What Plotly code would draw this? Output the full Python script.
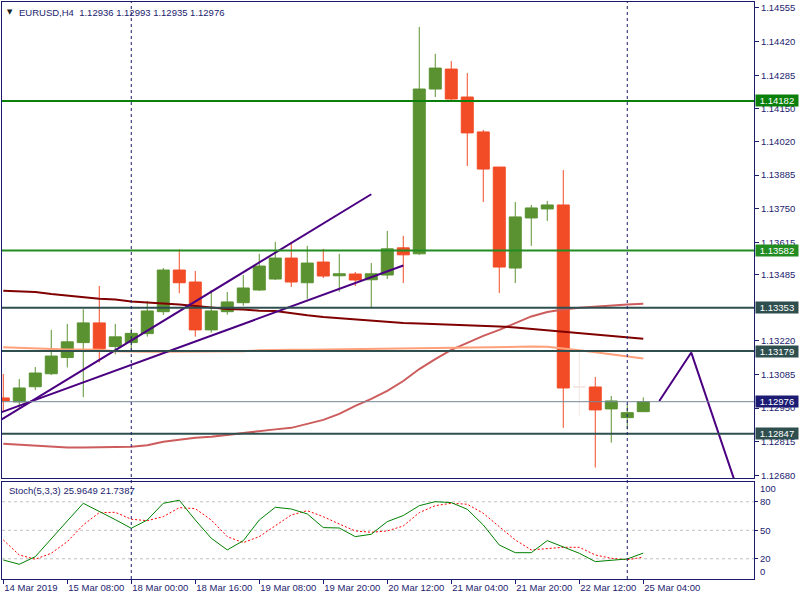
import plotly.graph_objects as go

# ---------------- data ----------------
bar_index = list(range(41))
label_bars = [0, 4, 8, 12, 16, 20, 24, 28, 32, 36, 40]
bar_labels = ["14 Mar 2019", "15 Mar 08:00", "18 Mar 00:00", "18 Mar 16:00", "19 Mar 08:00",
              "19 Mar 20:00", "20 Mar 12:00", "21 Mar 04:00", "21 Mar 20:00", "22 Mar 12:00",
              "25 Mar 04:00"]

opens = [1.12991, 1.12975, 1.13036, 1.13088, 1.13153, 1.13213, 1.13292, 1.13197, 1.13213, 1.13249,
         1.13337, 1.13504, 1.13456, 1.13264, 1.13337, 1.13373, 1.13424, 1.13468, 1.13552, 1.13453,
         1.13536, 1.13481, 1.13488, 1.13465, 1.13484, 1.13593, 1.13569, 1.14230, 1.14310, 1.14198,
         1.14058, 1.13917, 1.13512, 1.13713, 1.13749, 1.13765, 1.13035, 1.13035, 1.12947, 1.12912,
         1.12936]
highs = [1.13087, 1.13067, 1.13115, 1.13264, 1.13288, 1.13347, 1.13440, 1.13288, 1.13269, 1.13380,
         1.13512, 1.13587, 1.13500, 1.13424, 1.13416, 1.13484, 1.13569, 1.13617, 1.13617, 1.13601,
         1.13589, 1.13569, 1.13496, 1.13532, 1.13661, 1.13641, 1.14479, 1.14371, 1.14342, 1.14294,
         1.14066, 1.13917, 1.13777, 1.13765, 1.13781, 1.13905, 1.13180, 1.13075, 1.12999, 1.12967,
         1.12993]
lows = [1.12935, 1.12951, 1.13023, 1.13083, 1.13113, 1.12994, 1.13133, 1.13166, 1.13184, 1.13237,
        1.13324, 1.13411, 1.13237, 1.13253, 1.13325, 1.13361, 1.13420, 1.13464, 1.13436, 1.13388,
        1.13472, 1.13417, 1.13440, 1.13351, 1.13468, 1.13452, 1.13565, 1.14198, 1.14182, 1.13921,
        1.13777, 1.13412, 1.13452, 1.13601, 1.13701, 1.12871, 1.12919, 1.12712, 1.12812, 1.12864,
        1.12935]
closes = [1.12979, 1.13031, 1.13091, 1.13159, 1.13216, 1.13292, 1.13189, 1.13236, 1.13250, 1.13340,
          1.13504, 1.13453, 1.13264, 1.13340, 1.13376, 1.13432, 1.13520, 1.13552, 1.13456, 1.13532,
          1.13480, 1.13489, 1.13464, 1.13489, 1.13589, 1.13565, 1.14230, 1.14314, 1.14190, 1.14054,
          1.13909, 1.13516, 1.13717, 1.13753, 1.13765, 1.13031, 1.13035, 1.12943, 1.12979, 1.12932,
          1.12976]
faint_bars = [36]   # almost invisible doji

ma_maroon = [1.13421, 1.13418, 1.13416, 1.13408, 1.13402, 1.13394, 1.13389, 1.13386, 1.13378, 1.13374,
             1.13371, 1.13366, 1.13360, 1.13354, 1.13348, 1.13346, 1.13341, 1.13340, 1.13330, 1.13323,
             1.13316, 1.13311, 1.13306, 1.13301, 1.13296, 1.13292, 1.13290, 1.13288, 1.13286, 1.13284,
             1.13282, 1.13278, 1.13274, 1.13268, 1.13262, 1.13256, 1.13252, 1.13244, 1.13238, 1.13234,
             1.13228]
ma_salmon = [1.13194, 1.13192, 1.13188, 1.13185, 1.13185, 1.13185, 1.13184, 1.13178, 1.13176, 1.13176,
             1.13176, 1.13176, 1.13176, 1.13176, 1.13176, 1.13178, 1.13182, 1.13184, 1.13184, 1.13184,
             1.13185, 1.13186, 1.13186, 1.13188, 1.13188, 1.13190, 1.13190, 1.13192, 1.13193, 1.13194,
             1.13194, 1.13196, 1.13196, 1.13197, 1.13196, 1.13190, 1.13182, 1.13174, 1.13166, 1.13157,
             1.13149]
ma_red = [1.12807, 1.12803, 1.12799, 1.12793, 1.12792, 1.12792, 1.12792, 1.12792, 1.12795, 1.12801,
          1.12815, 1.12823, 1.12831, 1.12835, 1.12843, 1.12851, 1.12859, 1.12865, 1.12871, 1.12887,
          1.12903, 1.12927, 1.12959, 1.12987, 1.13019, 1.13059, 1.13107, 1.13147, 1.13184, 1.13212,
          1.13240, 1.13264, 1.13292, 1.13318, 1.13336, 1.13346, 1.13353, 1.13358, 1.13364, 1.13366,
          1.13369]

stoch_k = [18.7, 14.2, 22.2, 41.6, 59.8, 78.4, 70.0, 61.2, 52.1, 60.8, 78.4, 81.6, 60.8, 41.6, 29.3,
           39.0, 60.8, 74.2, 72.4, 67.2, 52.8, 52.4, 43.3, 45.8, 59.1, 65.5, 75.9, 80.1, 79.1, 72.1,
           55.6, 34.5, 26.4, 26.4, 39.1, 32.8, 25.8, 17.0, 18.7, 19.8, 25.9649]
stoch_d = [39.8, 24.0, 19.5, 25.8, 38.0, 55.6, 68.6, 68.9, 61.6, 60.1, 64.3, 73.8, 72.8, 60.8, 43.3,
           37.0, 43.3, 54.5, 66.1, 70.6, 64.3, 56.6, 49.3, 47.9, 49.3, 54.5, 68.6, 75.9, 78.4, 77.4,
           67.9, 53.8, 39.8, 29.3, 30.6, 32.1, 32.1, 24.0, 20.5, 19.0, 21.7387]
stoch_levels = [20, 50, 80]

trend_a_x, trend_a_y = [-0.1, 23.0], [1.12905, 1.13808]
trend_b_x, trend_b_y = [-0.1, 25.0], [1.12934, 1.13522]
zigzag_x, zigzag_y = [41.0, 43.0, 46.0], [1.12979, 1.13173, 1.12603]

level_prices = [1.14182, 1.13582, 1.13353, 1.13179, 1.12847]
level_colors = ["#0a800a", "#228b22", "#2f4f4f", "#2f4f4f", "#2f4f4f"]
last_price = 1.12976
separator_bars = [8, 39]

price_ticks = [1.14555, 1.14420, 1.14285, 1.14150, 1.14020, 1.13885, 1.13750, 1.13615, 1.13485,
               1.13220, 1.13085, 1.12950, 1.12815, 1.12680]
stoch_ticks = [20, 50, 80]
stoch_edge_labels = [100, 0]

# ---------------- styling ----------------
NAVY = "#1c1c6e"
BULL = "#5a9231"
BEAR = "#f24c27"
FONT = "Liberation Sans"

main_idx = [i for i in bar_index if i not in faint_bars]

fig = go.Figure()

# moving averages (below candles)
for vals, col in [(ma_red, "#cd5c5c"), (ma_salmon, "#ffa07a"), (ma_maroon, "#800000")]:
    fig.add_trace(go.Scatter(x=bar_index, y=vals, mode="lines", line=dict(color=col, width=2),
                             xaxis="x", yaxis="y", hoverinfo="skip"))

fig.add_trace(go.Candlestick(
    x=main_idx,
    open=[opens[i] for i in main_idx], high=[highs[i] for i in main_idx],
    low=[lows[i] for i in main_idx], close=[closes[i] for i in main_idx],
    increasing=dict(line=dict(color=BULL, width=1), fillcolor=BULL),
    decreasing=dict(line=dict(color=BEAR, width=1), fillcolor=BEAR),
    xaxis="x", yaxis="y"))
fig.add_trace(go.Candlestick(
    x=faint_bars,
    open=[opens[i] for i in faint_bars], high=[highs[i] for i in faint_bars],
    low=[lows[i] for i in faint_bars], close=[closes[i] for i in faint_bars],
    increasing=dict(line=dict(color="#f3e6e1", width=1), fillcolor="#f3e6e1"),
    decreasing=dict(line=dict(color="#f3e6e1", width=1), fillcolor="#f3e6e1"),
    xaxis="x", yaxis="y"))

# trend lines
for xs, ys in [(trend_a_x, trend_a_y), (trend_b_x, trend_b_y), (zigzag_x, zigzag_y)]:
    fig.add_trace(go.Scatter(x=xs, y=ys, mode="lines", line=dict(color="#4b0082", width=2),
                             xaxis="x", yaxis="y", hoverinfo="skip"))

# stochastic
fig.add_trace(go.Scatter(x=bar_index, y=stoch_d, mode="lines",
                         line=dict(color="#ff0000", width=1, dash="2px,2px"),
                         xaxis="x2", yaxis="y2", hoverinfo="skip"))
fig.add_trace(go.Scatter(x=bar_index, y=stoch_k, mode="lines",
                         line=dict(color="#008000", width=1),
                         xaxis="x2", yaxis="y2", hoverinfo="skip"))

shapes = []
for lv in stoch_levels:
    shapes.append(dict(type="line", xref="x2 domain", x0=0, x1=1, yref="y2", y0=lv, y1=lv,
                       line=dict(color="#c0c0c0", width=1, dash="3px,3px"), layer="below"))
for p, c in zip(level_prices, level_colors):
    shapes.append(dict(type="line", xref="x domain", x0=0, x1=1, yref="y", y0=p, y1=p,
                       line=dict(color=c, width=2), layer="above"))
shapes.append(dict(type="line", xref="x domain", x0=0, x1=1, yref="y", y0=last_price, y1=last_price,
                   line=dict(color="#778899", width=1), layer="above"))
for b in separator_bars:
    shapes.append(dict(type="line", xref="x", x0=b, x1=b, yref="paper", y0=0, y1=1,
                       line=dict(color=NAVY, width=1, dash="3px,3px"), layer="above"))

annotations = []
for p, c in zip(level_prices, level_colors):
    annotations.append(dict(xref="paper", x=1, xanchor="left", xshift=1, yref="y", y=p,
                            text=f"{p:.5f}", showarrow=False, bgcolor=c, width=42, height=11,
                            borderpad=0, font=dict(family=FONT, size=9.5, color="white")))
annotations.append(dict(xref="paper", x=1, xanchor="left", xshift=1, yref="y", y=last_price,
                        text=f"{last_price:.5f}", showarrow=False, bgcolor="#1b1b73", width=42,
                        height=11, borderpad=0, font=dict(family=FONT, size=9.5, color="white")))
for v, sh in zip(stoch_edge_labels, [-6, 6]):
    annotations.append(dict(xref="paper", x=1, xanchor="left", xshift=4, yref="y2", y=v,
                            yshift=sh, text=str(v), showarrow=False,
                            font=dict(family=FONT, size=9.5, color=NAVY)))
annotations.append(dict(xref="paper", x=0, xanchor="left", xshift=3, yref="paper", y=1,
                        yanchor="top", yshift=-4, text="▼", showarrow=False,
                        font=dict(family="DejaVu Sans", size=7, color="#202020")))
annotations.append(dict(xref="paper", x=0, xanchor="left", xshift=15, yref="paper", y=1,
                        yanchor="top", yshift=-3,
                        text="EURUSD,H4  1.12936 1.12993 1.12935 1.12976", showarrow=False,
                        font=dict(family=FONT, size=9.5, color=NAVY)))
annotations.append(dict(xref="paper", x=0, xanchor="left", xshift=5, yref="y2 domain", y=1,
                        yanchor="top", yshift=-1, text="Stoch(5,3,3) 25.9649 21.7387",
                        showarrow=False, font=dict(family=FONT, size=9.5, color=NAVY)))

axis_common = dict(showgrid=False, zeroline=False, showline=True, mirror=True,
                   linecolor=NAVY, linewidth=1, automargin=False)

fig.update_layout(
    width=800, height=600,
    margin=dict(l=2, r=46, t=2, b=21),
    paper_bgcolor="white", plot_bgcolor="white",
    showlegend=False,
    boxgap=0.25, boxgroupgap=0,
    font=dict(family=FONT, size=9, color=NAVY),
    xaxis=dict(domain=[0, 1], range=[-0.08, 46.92], anchor="y", showticklabels=False,
               ticks="", rangeslider=dict(visible=False), **axis_common),
    xaxis2=dict(domain=[0, 1], range=[-0.08, 46.92], anchor="y2", matches="x",
                tickmode="array", tickvals=label_bars, ticktext=bar_labels, tickangle=0,
                ticks="outside", ticklen=4, tickcolor=NAVY, ticklabelposition="outside right",
                tickfont=dict(family=FONT, size=9.5, color=NAVY),
                rangeslider=dict(visible=False), **axis_common),
    yaxis=dict(domain=[0.1742, 1], range=[1.12668, 1.14579], anchor="x", side="right",
               tickmode="array", tickvals=price_ticks, ticktext=[f"{t:.5f}" for t in price_ticks],
               ticks="outside", ticklen=4, tickcolor=NAVY,
               tickfont=dict(family=FONT, size=9.5, color=NAVY), **axis_common),
    yaxis2=dict(domain=[0, 0.1681], range=[-1.3, 100.8], anchor="x2", side="right",
                tickmode="array", tickvals=stoch_ticks, ticktext=[str(t) for t in stoch_ticks],
                ticks="outside", ticklen=3, tickcolor=NAVY,
                tickfont=dict(family=FONT, size=9.5, color=NAVY), **axis_common),
    shapes=shapes,
    annotations=annotations,
)

fig.write_html("out.html")
